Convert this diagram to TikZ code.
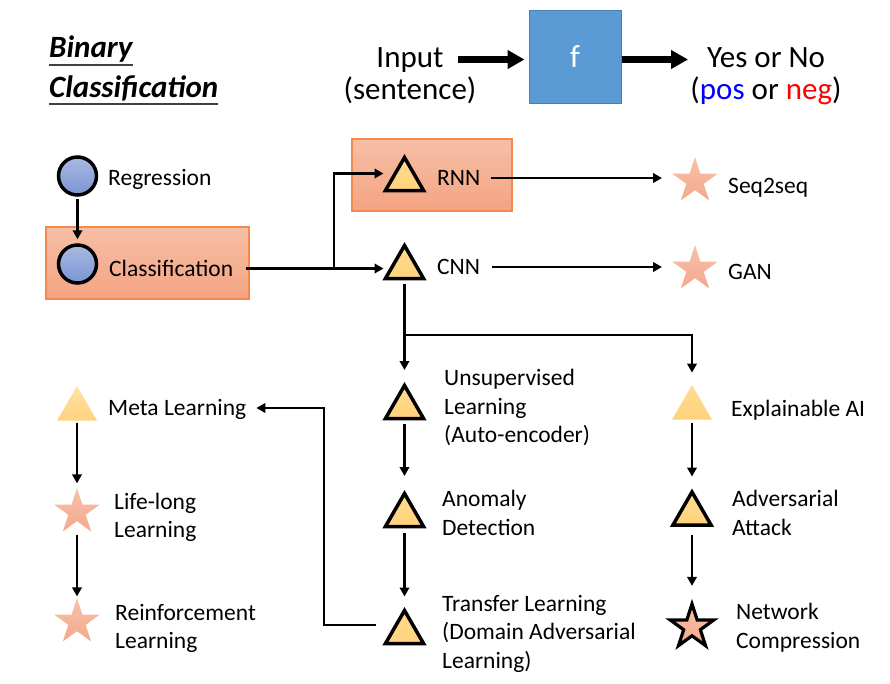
\documentclass[tikz,border=0pt]{standalone}
\usepackage{fontspec}
\setmainfont{Carlito}
\usetikzlibrary{shapes.geometric,arrows.meta}
\definecolor{cirT}{HTML}{AAB9E3}
\definecolor{cirB}{HTML}{7B95D3}
\definecolor{triT}{HTML}{FFDC92}
\definecolor{triB}{HTML}{FFD27C}
\definecolor{metaT}{HTML}{FFE3A6}
\definecolor{metaB}{HTML}{FFD27E}
\definecolor{stT}{HTML}{F7C1AA}
\definecolor{stB}{HTML}{F4A98C}
\definecolor{boxT}{HTML}{F6BFA7}
\definecolor{boxB}{HTML}{F4A481}
\definecolor{boxD}{HTML}{F28A4E}
\definecolor{fblue}{HTML}{5B9BD5}
\definecolor{fdraw}{HTML}{4A7FB5}
\definecolor{ulgray}{HTML}{404040}
\definecolor{posblue}{HTML}{0000FF}
\definecolor{negred}{HTML}{FF0000}
\begin{document}
\begin{tikzpicture}[x=1pt,y=-1pt,
  lbl/.style={anchor=west, inner sep=0pt, text height=15pt, text depth=0pt, font=\fontsize{23.5}{28.5}\selectfont},
  mlbl/.style={anchor=base west, inner sep=0pt, align=left, font=\fontsize{23.5}{28.5}\selectfont},
  toplbl/.style={anchor=base, inner sep=0pt, align=center, font=\fontsize{31}{32}\selectfont},
  ttl/.style={anchor=base west, inner sep=0pt, font=\fontsize{31}{36}\selectfont\bfseries\itshape},
  ul/.style={line width=1.5pt, draw=ulgray},
  tri/.style={regular polygon, regular polygon sides=3, minimum size=44pt, inner sep=0pt, draw=black, line width=3.5pt, top color=triT, bottom color=triB},
  ftri/.style={regular polygon, regular polygon sides=3, minimum size=46pt, inner sep=0pt, top color=triT, bottom color=triB},
  circ/.style={circle, minimum size=38pt, inner sep=0pt, draw=black, line width=3.5pt, top color=cirT, bottom color=cirB},
  pstar/.style={star, star points=5, star point ratio=2.618, minimum size=48pt, inner sep=0pt, top color=stT, bottom color=stB},
  nstar/.style={star, star points=5, star point ratio=2.618, minimum size=46pt, inner sep=0pt, draw=black, line width=3.2pt, top color=stT, bottom color=stB},
  obox/.style={rectangle, draw=boxD, line width=1.2pt, top color=boxT, bottom color=boxB, inner sep=0pt},
  arr/.style={line width=2.8pt, -{Triangle[length=9pt,width=9.5pt]}},
  bigarr/.style={line width=7pt, -{Triangle[length=17pt,width=18pt]}}
]
\useasboundingbox (0,0) rectangle (890,683);

% title
\node[ttl] (t1) at (49,57) {Binary};
\node[ttl] (t2) at (49,97) {Classification};
\draw[ul] ([yshift=-8pt]t1.base west) -- ([yshift=-8pt]t1.base east);
\draw[ul] ([yshift=-7pt]t2.base west) -- ([yshift=-7pt]t2.base east);

% top row (base anchor = last line's baseline)
\node[toplbl] (inp) at (410,99) {Input\\(sentence)};
\node[fill=fblue, draw=fdraw, line width=1pt, minimum width=92pt, minimum height=93pt, inner sep=0pt, text=white, font=\fontsize{32}{36}\selectfont] (fbox) at (575,56.5) {f};
\node[toplbl] (yes) at (766,99) {Yes or No\\(\textcolor{posblue}{pos} or \textcolor{negred}{neg})};
\coordinate (a1) at (458,59.5);
\coordinate (a2) at (688,59.5);
\draw[bigarr, shorten >=4pt] (a1) -- (a1 -| fbox.west);
\draw[bigarr] (a2 -| fbox.east) -- (a2);

% boxes
\node[obox, minimum width=203pt, minimum height=72pt] (clsbox) at (147.5,263) {};
\node[obox, minimum width=160pt, minimum height=72pt] (rnnbox) at (432,175) {};

% left top
\node[circ] (reg) at (77.5,176) {};
\node[lbl] (reglbl) at (108,178) {Regression};
\node[circ] (clsc) at (77.5,264) {};
\node[lbl] (clslbl) at (109,268.5) {Classification};

% RNN / CNN
\node[tri] (rnn) at (404.5,179.5) {};
\node[lbl] (rnnlbl) at (437,178) {RNN};
\node[tri] (cnn) at (404.5,267.5) {};
\node[lbl] (cnnlbl) at (437,267) {CNN};
\node[pstar] (seq) at (695,181) {};
\node[lbl] (seqlbl) at (728,185.5) {Seq2seq};
\node[pstar] (gan) at (695,269) {};
\node[lbl] (ganlbl) at (728,272) {GAN};

% left column
\node[ftri, top color=metaT, bottom color=metaB] (meta) at (77,409) {};
\node[lbl] (metalbl) at (108,408) {Meta Learning};
\node[pstar] (life) at (77,512) {};
\node[mlbl] (lifelbl) at (114,537.5) {Life-long\\Learning};
\node[pstar] (rl) at (77,622) {};
\node[mlbl] (rllbl) at (115,648.5) {Reinforcement\\Learning};

% middle column
\node[tri] (unsup) at (404.5,407.5) {};
\node[mlbl] (unsuplbl) at (444,442.5) {Unsupervised\\Learning\\(Auto-encoder)};
\node[tri] (anom) at (404.5,515.5) {};
\node[mlbl] (anomlbl) at (442,535) {Anomaly\\Detection};
\node[tri] (trans) at (404.5,632.5) {};
\node[mlbl] (translbl) at (442,668) {Transfer Learning\\(Domain Adversarial\\Learning)};

% right column
\node[ftri] (xai) at (692,408) {};
\node[lbl] (xailbl) at (731,408.5) {Explainable AI};
\node[tri] (adv) at (692,514) {};
\node[mlbl] (advlbl) at (732,535) {Adversarial\\Attack};
\node[nstar] (net) at (692,627) {};
\node[mlbl] (netlbl) at (736,648) {Network\\Compression};

% connectors
\draw[arr, shorten <=2pt, shorten >=4pt] (reg) -- (clsc);
\coordinate (cnnin) at ([xshift=-21pt,yshift=-1pt]cnn.center);
\coordinate (rnnin) at ([xshift=-21pt,yshift=6pt]rnn.center);
\coordinate (brx) at (334,0);
\draw[arr] ([xshift=-4pt]clsbox.east |- cnnin) -- (cnnin);
\draw[arr] (brx |- cnnin) |- (rnnin);
\coordinate (seqin) at ([xshift=-33pt]seq.center);
\coordinate (ganin) at ([xshift=-33pt]gan.center);
\draw[arr, shorten <=10pt] (rnnlbl.east) -- (rnnlbl.east -| seqin);
\draw[arr, shorten <=12pt] (cnnlbl.east) -- (cnnlbl.east -| ganin);

\coordinate (lvl) at (0,335);
\coordinate (split) at (cnn |- lvl);
\draw[arr, shorten <=4pt, shorten >=12pt] (cnn) -- (unsup);
\draw[arr, shorten >=12pt] (split) -| (xai);
\draw[arr, shorten <=4pt, shorten >=14pt] (unsup) -- (anom);
\draw[arr, shorten <=5pt, shorten >=10.5pt] (anom) -- (trans);

\draw[arr, shorten <=2.5pt, shorten >=4pt] (meta) -- (life);
\draw[arr, shorten <=14pt, shorten >=1pt] (life) -- (rl);

\draw[arr, shorten <=3.5pt, shorten >=12pt] (xai) -- (adv);
\draw[arr, shorten <=8pt, shorten >=13pt] (adv) -- (net);

\coordinate (trout) at ([xshift=-28.5pt,yshift=7.5pt]trans.center);
\coordinate (bendx) at (324,0);
\draw[arr, shorten >=10pt] (trout) -- (bendx |- trout) |- (metalbl.east);
\end{tikzpicture}
\end{document}
